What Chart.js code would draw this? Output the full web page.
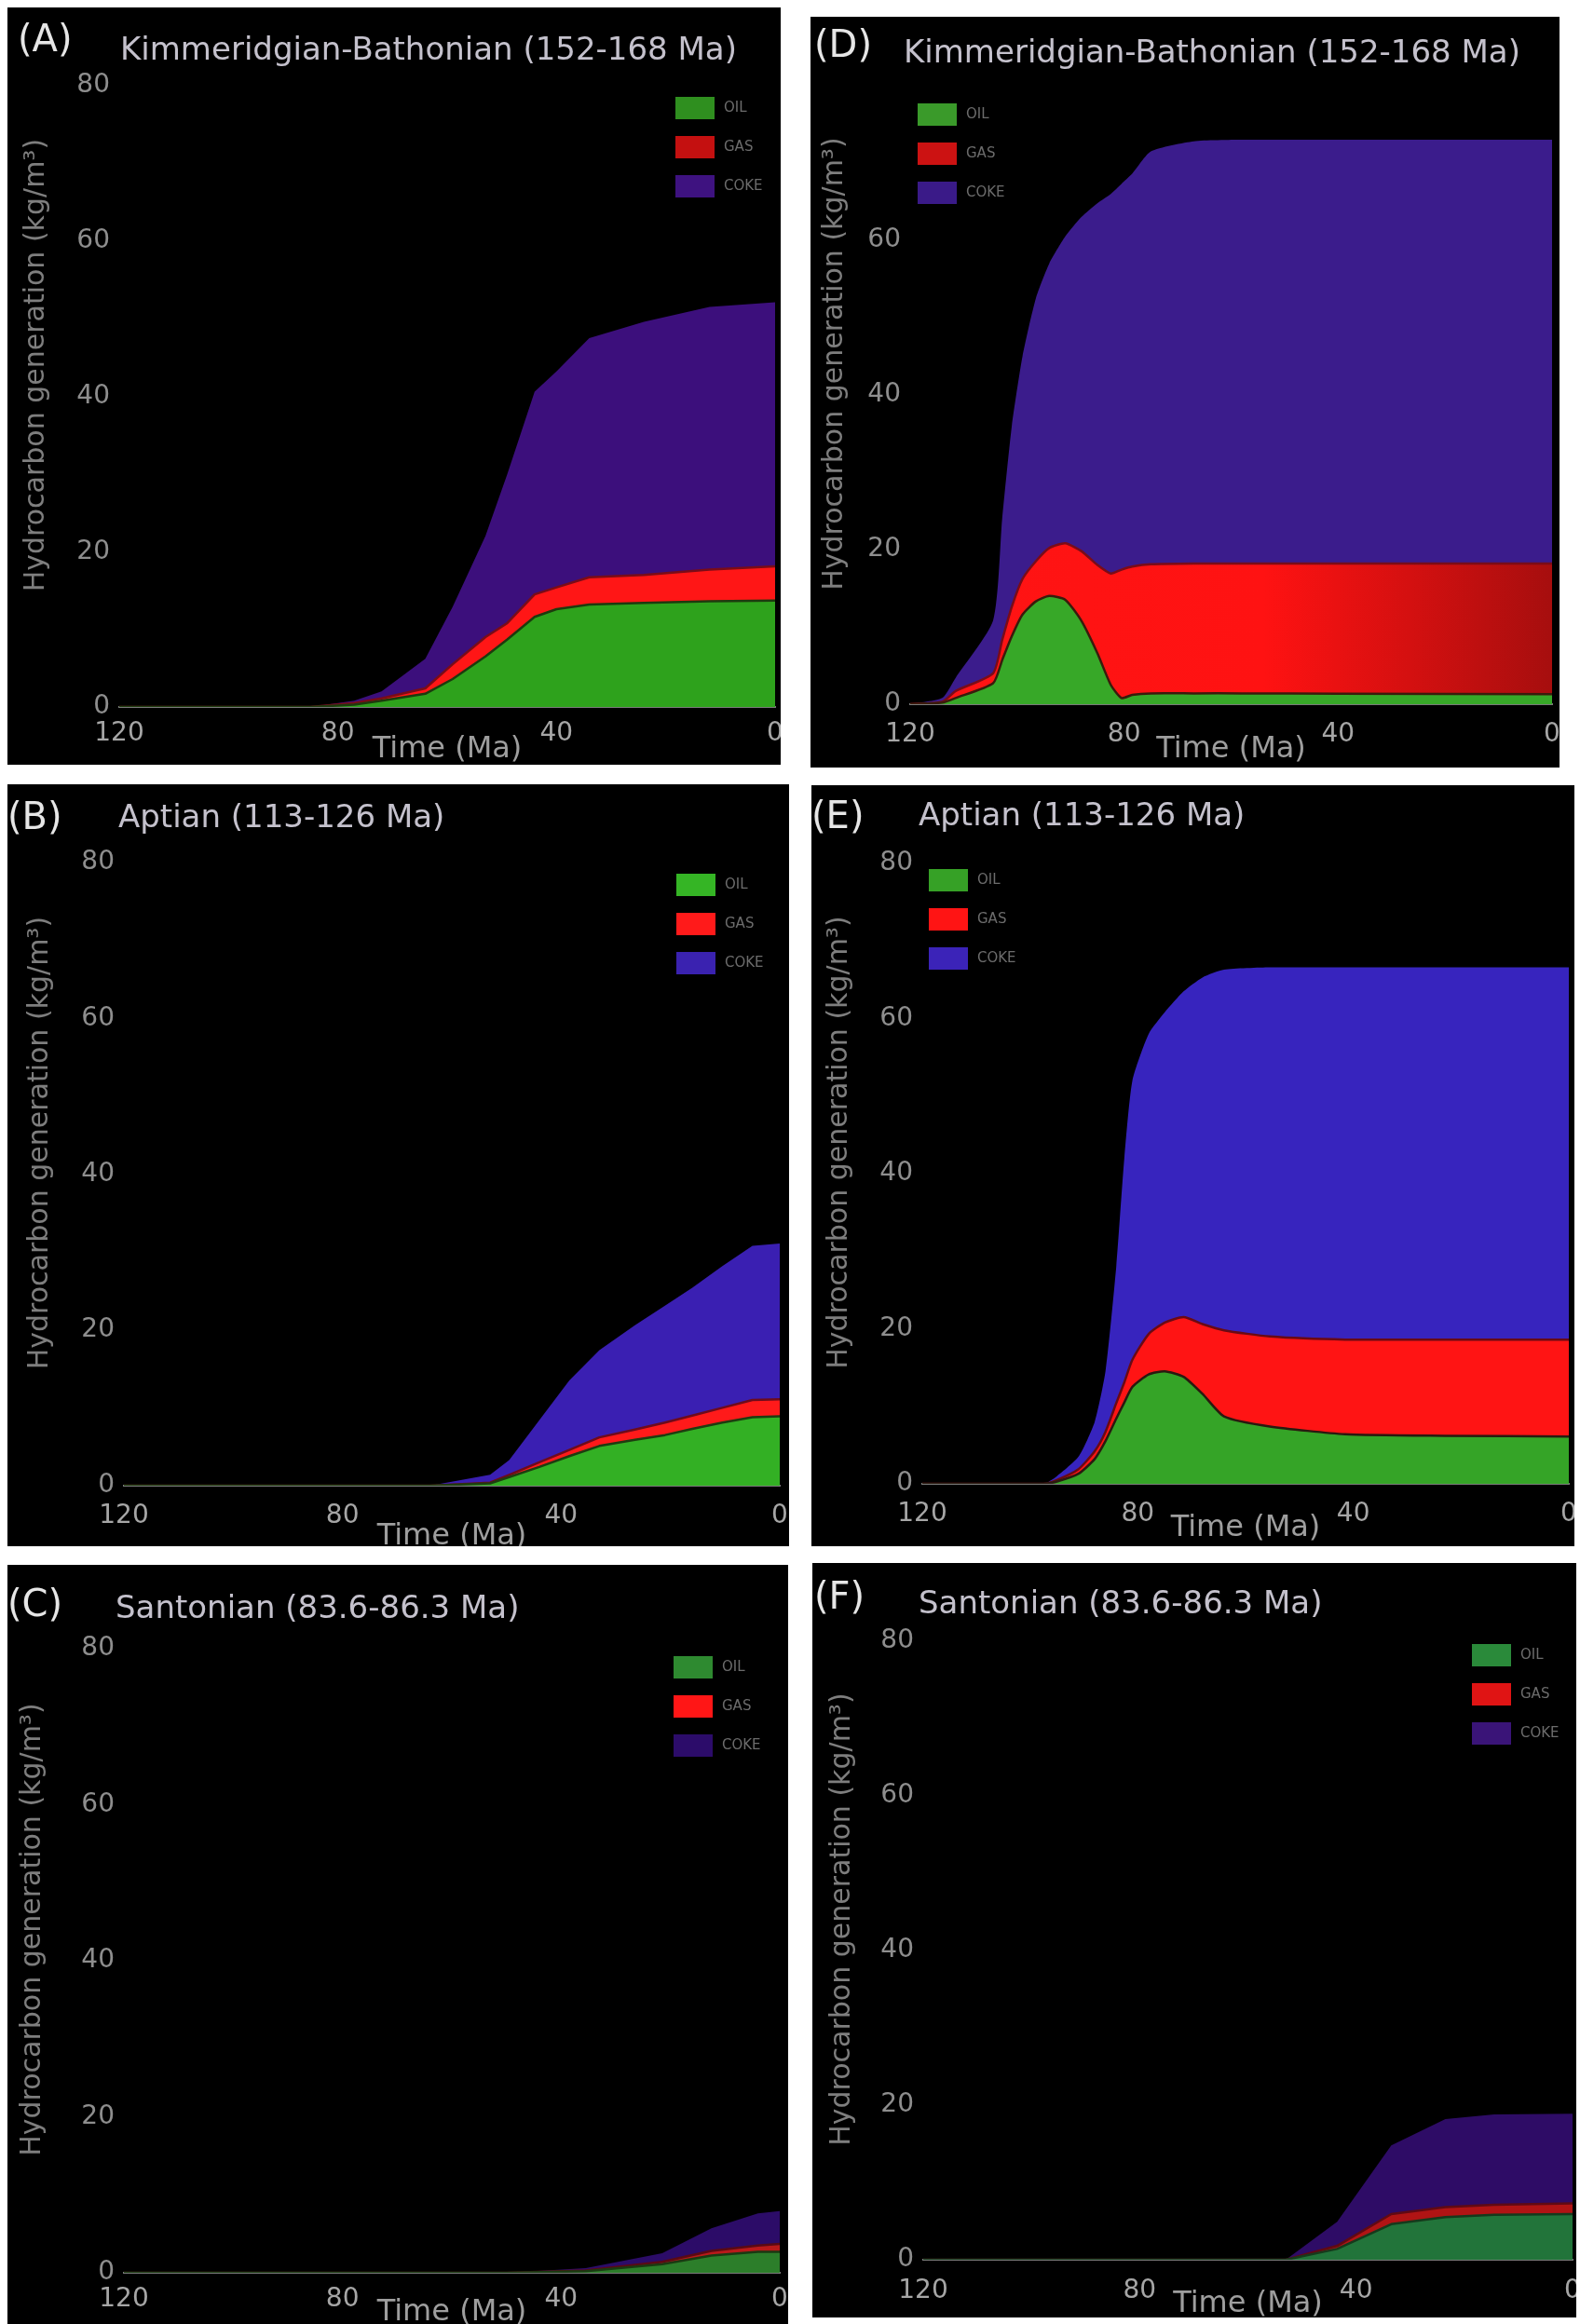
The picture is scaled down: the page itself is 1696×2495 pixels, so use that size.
<!DOCTYPE html>
<html>
<head>
<meta charset="utf-8">
<title>Hydrocarbon generation</title>
<script src="https://cdn.jsdelivr.net/npm/chart.js@4.4.0/dist/chart.umd.min.js"></script>
<style>
  body { margin: 0; background: #fff; width: 1696px; height: 2495px; position: relative; overflow: hidden; }
  .panel { position: absolute; background: #000; overflow: hidden; }
  .panel canvas { display: block; }
</style>
</head>
<body>
<script>
// axis ticks and series names
var timeTicks = [0, 40, 80, 120];
var genTicks = [0, 20, 40, 60, 80];
var genTicksNoTop = [0, 20, 40, 60];
var seriesNames = ['OIL', 'GAS', 'COKE'];

// (A) Kimmeridgian-Bathonian
var timesA = [120, 85, 77, 72, 64, 59, 53, 49, 44, 40, 34, 24, 12, 0];
var oilA  = [0, 0, 0.3, 0.8, 1.7, 3.6, 6.5, 8.7, 11.6, 12.6, 13.2, 13.4, 13.6, 13.7];
var gasA  = [0, 0, 0.2, 0.3, 0.7, 1.9, 2.5, 2.1, 2.9, 2.8, 3.5, 3.6, 4.1, 4.4];
var cokeA = [0, 0, 0.3, 0.9, 3.8, 7.4, 13, 19.2, 26.1, 27.8, 30.8, 32.6, 33.8, 34];

// (B) Aptian
var timesB = [120, 64, 53, 49.5, 44, 38.5, 33, 26.5, 21, 16, 10.5, 5, 0];
var oilB  = [0, 0, 0.3, 1.1, 2.4, 3.8, 5.1, 5.9, 6.5, 7.3, 8.1, 8.8, 8.9];
var gasB  = [0, 0, 0.1, 0.3, 0.6, 0.8, 1.1, 1.3, 1.6, 1.7, 1.9, 2.2, 2.2];
var cokeB = [0, 0, 1, 1.9, 5.4, 8.9, 11.2, 13.4, 15, 16.4, 18.2, 19.8, 20];

// (C) Santonian
var timesC = [120, 50, 35.5, 21.5, 12.5, 4, 0];
var oilC  = [0, 0, 0.2, 1.1, 2.2, 2.7, 2.7];
var gasC  = [0, 0, 0.1, 0.3, 0.6, 0.8, 1];
var cokeC = [0, 0, 0.3, 1.1, 2.9, 4.1, 4.2];

// (D) Kimmeridgian-Bathonian
var timesD = [120, 114, 111.5, 104.5, 102.8, 101, 99, 96.5, 94, 91, 88, 85, 82.5, 80.5, 78.5, 75, 67, 58, 40, 0];
var oilD  = [0, 0.2, 0.8, 2.7, 5.7, 8.8, 11.6, 13.3, 14, 13.5, 10.8, 6.6, 2.5, 0.8, 1.2, 1.4, 1.4, 1.4, 1.35, 1.3];
var gasD  = [0, 0.1, 0.9, 1.3, 2.6, 3.8, 4.6, 5.2, 6.2, 7.3, 9, 11.4, 14.4, 16.6, 16.6, 16.7, 16.8, 16.8, 16.85, 16.9];
var cokeD = [0, 0.5, 1.7, 6.8, 15.7, 23.4, 28.8, 34, 36.8, 39.7, 43.2, 46.8, 49.1, 49.9, 50.8, 53.4, 54.6, 54.8, 54.8, 54.8];

// (E) Aptian
var timesE = [120, 97.5, 95, 91, 88, 86, 84, 82.5, 81, 78, 75, 71.5, 68, 64, 55.5, 41.5, 23, 0];
var oilE  = [0, 0, 0.3, 1.3, 3.2, 5.5, 8.4, 10.5, 12.5, 14.1, 14.5, 13.8, 11.6, 8.7, 7.4, 6.4, 6.2, 6.1];
var gasE  = [0, 0, 0.2, 0.6, 1, 1.2, 2, 2.6, 3.5, 5.2, 6.3, 7.7, 9, 11.1, 11.6, 12.2, 12.4, 12.5];
var cokeE = [0, 0, 0.5, 1.6, 3.8, 7.8, 17.6, 28.9, 36, 38.7, 40, 42, 44.7, 46.5, 47.6, 48, 48, 48];

// (F) Santonian
var timesF = [120, 53, 43.5, 33.5, 23.5, 14.5, 0];
var oilF  = [0, 0, 1.4, 4.6, 5.5, 5.8, 5.9];
var gasF  = [0, 0, 0.4, 1.3, 1.3, 1.3, 1.4];
var cokeF = [0, 0, 3.1, 8.9, 11.4, 11.7, 11.6];

var FONT = '"DejaVu Sans", Verdana, sans-serif';

// red band that darkens towards present day
function fadingRed(context) {
	var area = context.chart.chartArea;
	if (!area) return '#ff1414';
	var g = context.chart.ctx.createLinearGradient(area.left, 0, area.right, 0);
	g.addColorStop(0, '#ff1414');
	g.addColorStop(0.55, '#ff1212');
	g.addColorStop(0.78, '#d41010');
	g.addColorStop(1, '#a60e0e');
	return g;
}

var headerPlugin = {
	id: 'header',
	afterDraw: function (chart, args, o) {
		var ctx = chart.ctx;
		ctx.save();
		ctx.textBaseline = 'alphabetic';
		ctx.textAlign = 'left';
		ctx.fillStyle = '#e6e6e6';
		ctx.font = '40px ' + FONT;
		ctx.fillText(o.letter, o.lx, o.ly);
		ctx.fillStyle = '#c4c1cc';
		ctx.font = '34px ' + FONT;
		ctx.fillText(o.title, o.tx, o.ty);
		ctx.restore();
	}
};

var boxLegend = {
	id: 'boxLegend',
	afterDraw: function (chart, args, o) {
		var ctx = chart.ctx;
		ctx.save();
		ctx.font = '15px ' + FONT;
		ctx.textBaseline = 'middle';
		chart.data.datasets.forEach(function (ds, i) {
			var y = o.y + i * 42;
			ctx.fillStyle = o.colors[i];
			ctx.fillRect(o.x, y, 42, 24);
			ctx.fillStyle = '#6c6c6c';
			ctx.fillText(ds.label, o.x + 52, y + 12);
		});
		ctx.restore();
	}
};

function makePanel(p) {
	var div = document.createElement('div');
	div.className = 'panel';
	div.style.left = p.box[0] + 'px';
	div.style.top = p.box[1] + 'px';
	div.style.width = p.box[2] + 'px';
	div.style.height = p.box[3] + 'px';
	var canvas = document.createElement('canvas');
	canvas.width = p.box[2];
	canvas.height = p.box[3];
	div.appendChild(canvas);
	document.body.appendChild(div);

	var W = p.box[2], H = p.box[3];
	var left = p.plot[0], top = p.plot[1], right = p.plot[2], bottom = p.plot[3];
	var c = p.colors;

	new Chart(canvas, {
		type: 'line',
		data: {
			labels: p.times,
			datasets: [
				{ label: seriesNames[0], data: p.oil, backgroundColor: c.oil, borderColor: c.oilLine, borderWidth: 2.5, fill: 'origin' },
				{ label: seriesNames[1], data: p.gas, backgroundColor: c.gas, borderColor: c.gasLine, borderWidth: 2.5, fill: '-1' },
				{ label: seriesNames[2], data: p.coke, backgroundColor: c.coke, borderColor: c.coke, borderWidth: 0, fill: '-1' }
			]
		},
		options: {
			responsive: false,
			animation: false,
			layout: { padding: { left: 0, top: top, right: W - right, bottom: 0 } },
			elements: {
				point: { radius: 0 },
				line: { tension: p.tension || 0, borderJoinStyle: 'round' }
			},
			scales: {
				x: {
					type: 'linear',
					reverse: true,
					min: 0,
					max: 120,
					z: 1,
					afterBuildTicks: function (s) { s.ticks = timeTicks.map(function (v) { return { value: v }; }); },
					afterFit: function (s) { s.height = H - bottom; s.paddingLeft = 0; s.paddingRight = 0; },
					grid: { display: false, drawTicks: false },
					border: { display: true, color: '#7a7a7a', width: 2 },
					ticks: { color: '#a6a6a6', padding: p.xTickPad, maxRotation: 0, autoSkip: false, font: { family: FONT, size: 28 } },
					title: {
						display: true,
						text: 'Time (Ma)',
						color: '#9e9e9e',
						font: { family: FONT, size: 32, lineHeight: 1 },
						padding: { top: 0, bottom: p.xTitlePad }
					}
				},
				y: {
					stacked: true,
					min: 0,
					max: 80,
					afterBuildTicks: function (s) { s.ticks = p.yTicks.map(function (v) { return { value: v }; }); },
					afterFit: function (s) { s.width = left; s.paddingTop = 0; s.paddingBottom = 0; },
					grid: { display: false, drawTicks: false },
					border: { display: false },
					ticks: { color: '#8e8e8e', padding: 10, font: { family: FONT, size: 28 } },
					title: {
						display: true,
						text: '       Hydrocarbon generation (kg/m\u00b3)',
						color: '#7e7e7e',
						font: { family: FONT, size: 30, lineHeight: 1 },
						padding: { top: p.yTitlePad, bottom: 0 }
					}
				}
			},
			plugins: {
				legend: { display: false },
				tooltip: { enabled: false },
				header: p.header,
				boxLegend: { x: p.legend[0], y: p.legend[1], colors: c.key }
			}
		},
		plugins: [headerPlugin, boxLegend]
	});
}

makePanel({
	box: [8, 8, 830, 813], plot: [120, 84, 824, 751],
	times: timesA, oil: oilA, gas: gasA, coke: cokeA, yTicks: genTicks,
	xTickPad: 12, xTitlePad: 0, yTitlePad: 16, legend: [717, 96],
	header: { letter: '(A)', lx: 11, ly: 47, title: 'Kimmeridgian-Bathonian (152-168 Ma)', tx: 121, ty: 56 },
	colors: { oil: '#2ea21c', oilLine: '#1d3b0e', gas: '#ff1616', gasLine: '#7a0c18', coke: '#3c0f7c',
		key: ['#2f8f1f', '#c41010', '#3e1280'] }
});

makePanel({
	box: [8, 842, 839, 818], plot: [125, 84, 829, 753],
	times: timesB, oil: oilB, gas: gasB, coke: cokeB, yTicks: genTicks,
	xTickPad: 16, xTitlePad: -6, yTitlePad: 20, legend: [718, 96],
	header: { letter: '(B)', lx: 0, ly: 48, title: 'Aptian (113-126 Ma)', tx: 119, ty: 46 },
	colors: { oil: '#33b024', oilLine: '#1e3d10', gas: '#ff1a1a', gasLine: '#6e0b1c', coke: '#3a1fb2',
		key: ['#35b525', '#ff1a1a', '#3a22b0'] }
});

makePanel({
	box: [8, 1680, 838, 815], plot: [125, 90, 829, 760],
	times: timesC, oil: oilC, gas: gasC, coke: cokeC, yTicks: genTicks,
	xTickPad: 12, xTitlePad: -4, yTitlePad: 12, legend: [715, 98],
	header: { letter: '(C)', lx: 0, ly: 55, title: 'Santonian (83.6-86.3 Ma)', tx: 116, ty: 57 },
	colors: { oil: '#2c7e2a', oilLine: '#1a3a12', gas: '#b81a1a', gasLine: '#5a0a14', coke: '#2c0c68',
		key: ['#2e8a30', '#ff1616', '#2c0c6a'] }
});

makePanel({
	box: [870, 18, 804, 806], plot: [107, 74, 796, 738], tension: 0.2,
	times: timesD, oil: oilD, gas: gasD, coke: cokeD, yTicks: genTicksNoTop,
	xTickPad: 16, xTitlePad: 3, yTitlePad: 11, legend: [115, 93],
	header: { letter: '(D)', lx: 4, ly: 43, title: 'Kimmeridgian-Bathonian (152-168 Ma)', tx: 100, ty: 49 },
	colors: { oil: '#37a828', oilLine: '#3a1c0c', gas: fadingRed, gasLine: '#7a0c18', coke: '#3b1c8c',
		key: ['#3a9a2a', '#cc1212', '#3a1a88'] }
});

makePanel({
	box: [871, 843, 819, 817], plot: [119, 84, 813, 750], tension: 0.2,
	times: timesE, oil: oilE, gas: gasE, coke: cokeE, yTicks: genTicks,
	xTickPad: 16, xTitlePad: 3, yTitlePad: 15, legend: [126, 90],
	header: { letter: '(E)', lx: 0, ly: 46, title: 'Aptian (113-126 Ma)', tx: 115, ty: 43 },
	colors: { oil: '#35a427', oilLine: '#2a1a10', gas: '#ff1414', gasLine: '#6a0a14', coke: '#3724be',
		key: ['#36a126', '#ff1414', '#3b23b8'] }
});

makePanel({
	box: [872, 1678, 820, 810], plot: [119, 84, 816, 748],
	times: timesF, oil: oilF, gas: gasF, coke: cokeF, yTicks: genTicks,
	xTickPad: 17, xTitlePad: -2, yTitlePad: 17, legend: [708, 87],
	header: { letter: '(F)', lx: 2, ly: 49, title: 'Santonian (83.6-86.3 Ma)', tx: 114, ty: 54 },
	colors: { oil: '#22743a', oilLine: '#163a1c', gas: '#b01414', gasLine: '#600a14', coke: '#2e0c66',
		key: ['#2a8a3a', '#e01414', '#3a1478'] }
});
</script>
</body>
</html>
